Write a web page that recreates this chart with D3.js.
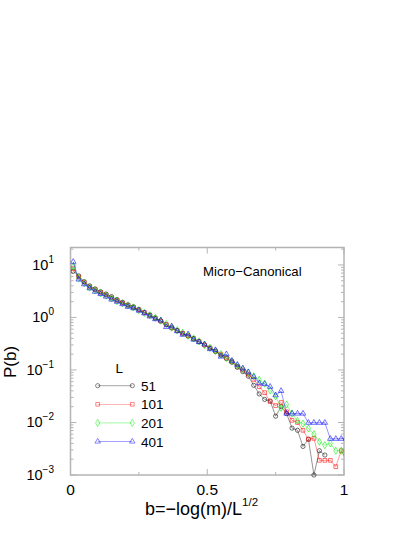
<!DOCTYPE html>
<html>
<head>
<meta charset="utf-8">
<script src="https://cdn.jsdelivr.net/npm/d3@7"></script>
<style>
  body { margin: 0; background: #fff; }
  svg { display: block; font-family: "Liberation Sans", Arial, Helvetica, sans-serif; }
</style>
</head>
<body>
<svg id="chart" width="415" height="537"></svg>
<script>
// bin centres of b
var bins = [0.01, 0.03, 0.05, 0.07, 0.09, 0.11, 0.13, 0.15, 0.17, 0.19,
            0.21, 0.23, 0.25, 0.27, 0.29, 0.31, 0.33, 0.35, 0.37, 0.39,
            0.41, 0.43, 0.45, 0.47, 0.49, 0.51, 0.53, 0.55, 0.57, 0.59,
            0.61, 0.63, 0.65, 0.67, 0.69, 0.71, 0.73, 0.75, 0.77, 0.79,
            0.81, 0.83, 0.85, 0.87, 0.89, 0.91, 0.93, 0.95, 0.97, 0.99, 1.01];

// P(b) for each system size (null = empty bin)
var pL51 = [7.6, 6.2, 4.8, 4.0, 3.5, 3.1, 2.8, 2.5, 2.2, 1.95,
            1.75, 1.6, 1.42, 1.25, 1.12, 0.98, 0.86, 0.73, 0.63, 0.56,
            0.5, 0.44, 0.39, 0.345, 0.3, 0.26, 0.225, 0.19, 0.165, 0.14,
            0.112, 0.093, 0.076, 0.051, 0.035, 0.0275, 0.0257, 0.0132, 0.02, 0.0148,
            0.0078, 0.0071, 0.0035, 0.0048, 0.001, 0.0029, 0.0024, null, null, null, null];
var pL101 = [8.5, 5.9, 4.7, 3.8, 3.4, 3.0, 2.7, 2.35, 2.1, 1.9,
             1.7, 1.55, 1.4, 1.25, 1.1, 0.97, 0.85, 0.74, 0.64, 0.57,
             0.5, 0.45, 0.4, 0.35, 0.3, 0.265, 0.23, 0.2, 0.17, 0.145,
             0.117, 0.1, 0.083, 0.066, 0.048, 0.037, 0.025, 0.021, 0.024, 0.016,
             0.011, 0.010, 0.0071, 0.0048, 0.005, 0.0019, 0.0019, 0.0019, 0.00144, 0.0029, 0.0019];
var pL201 = [9.5, 5.6, 4.5, 3.7, 3.3, 2.9, 2.6, 2.3, 2.05, 1.85,
             1.7, 1.55, 1.38, 1.22, 1.1, 0.99, 0.87, 0.75, 0.64, 0.57,
             0.51, 0.45, 0.4, 0.35, 0.3, 0.265, 0.23, 0.2, 0.17, 0.145,
             0.12, 0.105, 0.089, 0.076, 0.065, 0.055, 0.041, 0.0316, 0.019, 0.022,
             0.0148, 0.0107, 0.0095, 0.0077, 0.006, 0.0043, 0.0037, 0.004, 0.0029, 0.0029, 0.0018];
var pL401 = [11.5, 5.3, 4.3, 3.6, 3.1, 2.8, 2.5, 2.2, 2.0, 1.8,
             1.6, 1.5, 1.35, 1.2, 1.05, 0.93, 0.88, 0.66, 0.68, 0.55,
             0.47, 0.48, 0.38, 0.34, 0.31, 0.25, 0.24, 0.18, 0.2, 0.15,
             0.126, 0.107, 0.091, 0.074, 0.056, 0.054, 0.048, 0.033, 0.04, 0.0148,
             0.0148, 0.0148, 0.0148, 0.0099, 0.0099, 0.0099, 0.0099, 0.0049, 0.0049, 0.0049, 0.0049];

var sizes = ["51", "101", "201", "401"];
var seriesValues = [pL51, pL101, pL201, pL401];
var seriesColors = ["#000000", "#ff0000", "#00ee00", "#0000ff"];
var seriesSymbols = [d3.symbolCircle, d3.symbolSquare, d3.symbolDiamond, d3.symbolTriangle];

var xTicks = [0, 0.5, 1];
var xTickLabels = ["0", "0.5", "1"];
var xMinorTicks = [0.25, 0.75];
var yDecades = [-3, -2, -1, 0, 1];

// frame of the plot
var plotLeft = 70.5, plotRight = 344, plotTop = 247.5, plotBottom = 475;

var svg = d3.select("#chart");

var x = d3.scaleLinear().domain([0, 1]).range([plotLeft, plotRight]);
var y = d3.scaleLog().domain([1e-3, 21.5]).range([plotBottom, plotTop]);

svg.append("defs").append("clipPath").attr("id", "plotClip")
  .append("rect").attr("x", plotLeft).attr("y", plotTop - 4)
  .attr("width", plotRight - plotLeft).attr("height", plotBottom - plotTop + 8);

var axisColor = "#b4b4b4";

// frame
svg.append("rect").attr("x", plotLeft).attr("y", plotTop)
  .attr("width", plotRight - plotLeft).attr("height", plotBottom - plotTop)
  .style("fill", "none").style("stroke", axisColor).style("stroke-width", 1.5);

// x ticks (bottom and top, inward)
var xt = svg.append("g");
xTicks.forEach(function(t) {
  xt.append("line").attr("x1", x(t)).attr("x2", x(t)).attr("y1", plotBottom).attr("y2", plotBottom - 6);
  xt.append("line").attr("x1", x(t)).attr("x2", x(t)).attr("y1", plotTop).attr("y2", plotTop + 6);
});
xMinorTicks.forEach(function(t) {
  xt.append("line").attr("x1", x(t)).attr("x2", x(t)).attr("y1", plotBottom).attr("y2", plotBottom - 3);
  xt.append("line").attr("x1", x(t)).attr("x2", x(t)).attr("y1", plotTop).attr("y2", plotTop + 3);
});
xt.selectAll("line").style("stroke", axisColor).style("stroke-width", 1);

svg.selectAll(".xlab").data(xTicks).enter().append("text")
  .attr("x", function(d) { return x(d); }).attr("y", plotBottom + 20)
  .attr("text-anchor", "middle").style("font-size", "15.5px")
  .text(function(d, i) { return xTickLabels[i]; });

// y ticks (left and right, inward), log scale
var yt = svg.append("g");
yDecades.forEach(function(e) {
  var v = Math.pow(10, e);
  yt.append("line").attr("x1", plotLeft).attr("x2", plotLeft + 6).attr("y1", y(v)).attr("y2", y(v));
  yt.append("line").attr("x1", plotRight).attr("x2", plotRight - 6).attr("y1", y(v)).attr("y2", y(v));
  for (var k = 2; k <= 9; k++) {
    var m = k * v;
    if (m > 21.5) break;
    yt.append("line").attr("x1", plotLeft).attr("x2", plotLeft + 3).attr("y1", y(m)).attr("y2", y(m));
    yt.append("line").attr("x1", plotRight).attr("x2", plotRight - 3).attr("y1", y(m)).attr("y2", y(m));
  }
});
yt.selectAll("line").style("stroke", axisColor).style("stroke-width", 1);

var ylab = svg.selectAll(".ylab").data(yDecades).enter().append("text")
  .attr("x", 54).attr("y", function(d) { return y(Math.pow(10, d)) + 5; })
  .attr("text-anchor", "end").style("font-size", "14.5px");
ylab.append("tspan").text("10");
ylab.append("tspan").attr("dy", -7).style("font-size", "10px")
  .text(function(d) { return d < 0 ? "\u2212" + (-d) : String(d); });

// axis titles
svg.append("text").attr("transform", "translate(16,362) rotate(-90)")
  .attr("text-anchor", "middle").style("font-size", "17px").text("P(b)");

var xTitle = svg.append("text").attr("x", 145).attr("y", 515).style("font-size", "18px");
xTitle.append("tspan").text("b=\u2212log(m)/L");
xTitle.append("tspan").attr("dy", -9).style("font-size", "11.5px").text("1/2");

svg.append("text").attr("x", 203).attr("y", 276).style("font-size", "13.2px")
  .text("Micro\u2212Canonical");

// series
var plot = svg.append("g").attr("clip-path", "url(#plotClip)");
var line = d3.line()
  .x(function(d) { return x(d[0]); })
  .y(function(d) { return y(d[1]); });
var markerSize = [14, 14, 15, 13];

seriesValues.forEach(function(vals, i) {
  var pts = bins.map(function(b, j) { return [b, vals[j]]; })
    .filter(function(d) { return d[1] !== null; });
  plot.append("path").datum(pts)
    .attr("d", line).style("fill", "none")
    .style("stroke", seriesColors[i]).style("stroke-width", 0.6).style("opacity", 0.7);
  plot.selectAll(".m" + i).data(pts)
    .enter().append("path")
    .attr("transform", function(d) { return "translate(" + x(d[0]) + "," + y(d[1]) + ")"; })
    .attr("d", d3.symbol().type(seriesSymbols[i]).size(markerSize[i]))
    .style("fill", "none").style("stroke", seriesColors[i]).style("stroke-width", 0.8)
    .style("opacity", 0.7);
});

// legend
svg.append("text").attr("x", 115.5).attr("y", 372.5).style("font-size", "13.5px").text("L");
var legendY = [385.7, 404.3, 422.9, 441.5];
sizes.forEach(function(s, i) {
  var g = svg.append("g");
  g.append("line").attr("x1", 97.7).attr("x2", 132.3).attr("y1", legendY[i]).attr("y2", legendY[i])
    .style("stroke", seriesColors[i]).style("stroke-width", 0.6).style("opacity", 0.6);
  [97.7, 132.3].forEach(function(px) {
    g.append("path").attr("transform", "translate(" + px + "," + legendY[i] + ")")
      .attr("d", d3.symbol().type(seriesSymbols[i]).size(markerSize[i]))
      .style("fill", "none").style("stroke", seriesColors[i]).style("stroke-width", 0.8)
      .style("opacity", 0.6);
  });
  g.append("text").attr("x", 141).attr("y", legendY[i] + 5).style("font-size", "13.5px").text(s);
});
</script>
</body>
</html>
